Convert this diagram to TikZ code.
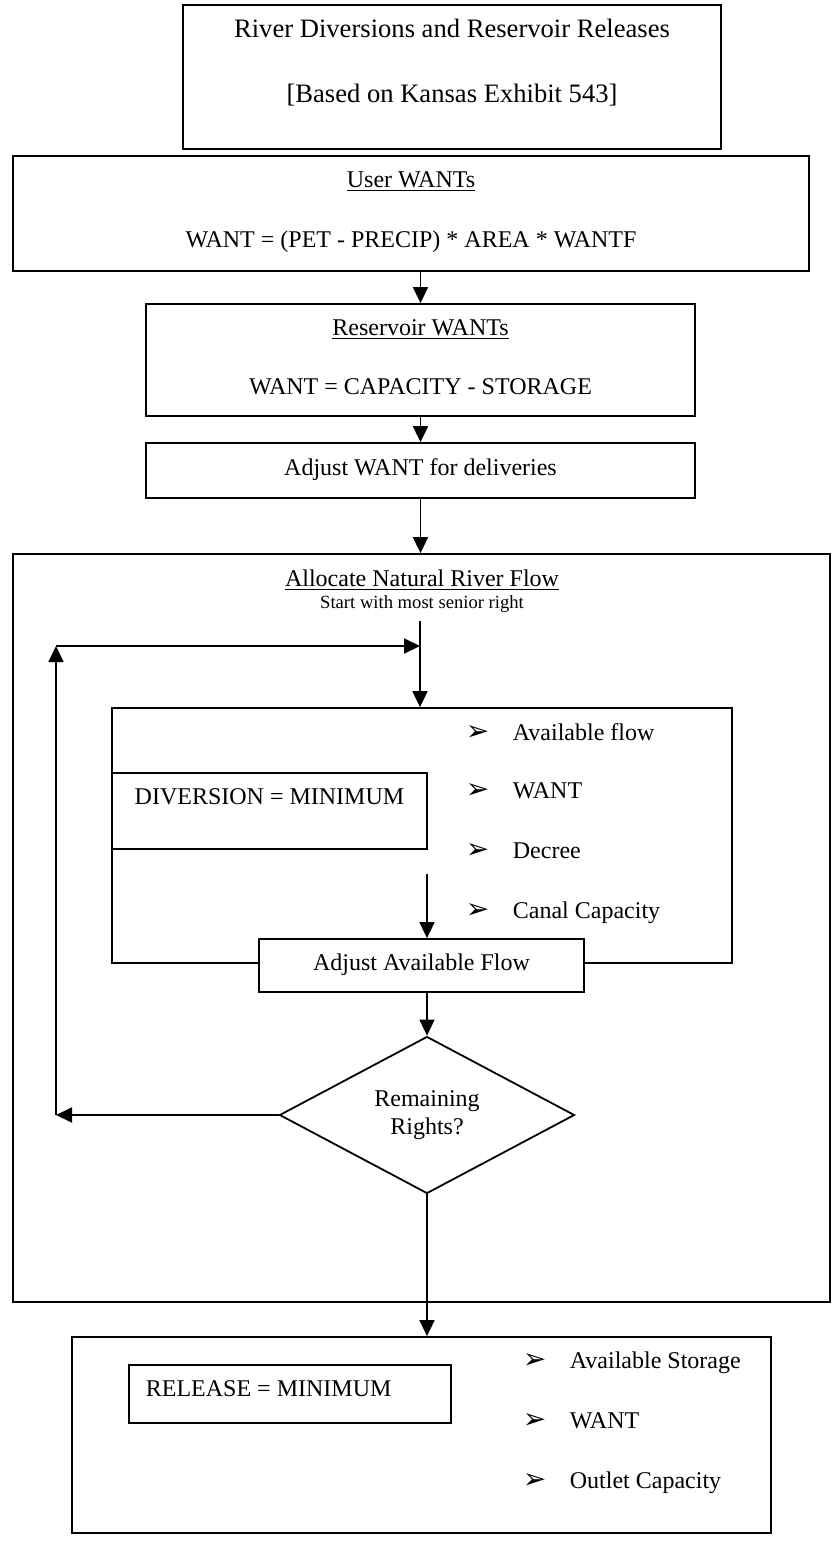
\documentclass[tikz,border=0pt]{standalone}
\usepackage{fontspec}
\setmainfont{Liberation Serif}
\newfontfamily\bulletfont{DejaVu Sans}
\usetikzlibrary{arrows.meta,shapes.geometric,positioning}

\newcommand\pickmark{\makebox[23.5pt][l]{\bulletfont\fontsize{14}{14}\selectfont ➢}}

\begin{document}
\begin{tikzpicture}[
  x = 0.5pt, y = -0.5pt,
  > = {Triangle[length=8pt,width=7.5pt]},
  line width = 0.9pt,
  frame/.style = {rectangle, draw, fill=white, inner sep=0pt,
                  text depth=3pt, font=\fontsize{12}{14}\selectfont},
  txt/.style   = {inner sep=0pt, anchor=base, font=\fontsize{12}{14}\selectfont},
  head/.style  = {inner sep=0pt, anchor=base, font=\fontsize{13.3}{15}\selectfont},
  small/.style = {inner sep=0pt, anchor=base, font=\fontsize{9.3}{11}\selectfont},
  pick/.style  = {inner sep=0pt, anchor=base west, font=\fontsize{12}{14}\selectfont},
  test/.style  = {diamond, draw, aspect=1.88, inner sep=0pt, align=center,
                  minimum width=147.5pt, minimum height=78.5pt,
                  font=\fontsize{12}{14}\selectfont}
]
\useasboundingbox (0,0) rectangle (833,1542);

% ───────── heading ─────────
\node[frame, minimum width=269pt, minimum height=72pt] (title) at (452,77) {};
\node[head] (titleA) at (452,37)  {River Diversions and Reservoir Releases};
\node[head] (titleB) at (452,102) {[Based on Kansas Exhibit 543]};

% ───────── wants ─────────
\node[frame, minimum width=398pt, minimum height=57.5pt] (user) at (411,213.5) {};
\node[txt] (userA) at (411,187) {\underline{User WANTs}};
\node[txt] (userB) at (411,247) {WANT = (PET - PRECIP) * AREA * WANTF};

\node[frame, minimum width=274.5pt, minimum height=56pt] (res) at (420.5,360) {};
\node[txt] (resA) at (420.5,335) {\underline{Reservoir WANTs}};
\node[txt] (resB) at (420.5,394) {WANT = CAPACITY - STORAGE};

\node[frame, minimum width=274.5pt, minimum height=27.5pt] (adjwant) at (420.5,470.5)
  {Adjust WANT for deliveries};

% ───────── river allocation ─────────
\node[frame, minimum width=408.5pt, minimum height=374pt] (alloc) at (421.5,928) {};
\node[txt]   (allocA) at (422,586) {\underline{Allocate Natural River Flow}};
\node[small] (allocB) at (422,608) {Start with most senior right};

\node[frame, minimum width=310pt, minimum height=127.5pt] (inner) at (422,835.5) {};
\node[frame, minimum width=157.5pt, minimum height=38pt] (div) at (269.5,811) {};
\node[txt] (divA) at (269.5,804) {DIVERSION = MINIMUM};

\foreach \y/\t [count=\i] in {740/Available flow, 798/WANT, 858/Decree, 918/Canal Capacity}
  \node[pick] (divpick\i) at (465,\y) {\pickmark\t};

\node[frame, minimum width=162.5pt, minimum height=26.5pt] (adjflow) at (421.5,965.5)
  {Adjust Available Flow};
\node[test] (more) at (427,1115) {Remaining\\Rights?};

% ───────── reservoir release ─────────
\node[frame, minimum width=349.5pt, minimum height=98pt] (rel) at (421.5,1435) {};
\node[frame, minimum width=161pt, minimum height=29pt] (relmin) at (290,1394) {};
\node[pick] (relminA) at (145,1396) {RELEASE = MINIMUM};

\foreach \y/\t [count=\i] in {1368/Available Storage, 1428/WANT, 1488/Outlet Capacity}
  \node[pick] (relpick\i) at (522,\y) {\pickmark\t};

% ───────── arrows ─────────
\coordinate (spine)  at (420,621);
\coordinate (loopL)  at (56,1115);
\coordinate (loopT)  at (56,646);
\coordinate (divout) at (427,874);

\draw[->] (res.north |- user.south) -- (res.north);
\draw[->] (res.south) -- (adjwant.north);
\draw[->] (adjwant.south) -- (adjwant.south |- alloc.north);
\draw[->] (spine) -- (spine |- inner.north);

\draw[->] (more.west) -- (loopL);
\draw[->] (loopL) -- (loopT);
\draw[->] (loopT) -- (spine |- loopT);

\draw[->] (divout) -- (divout |- adjflow.north);
\draw[->] (divout |- adjflow.south) -- (more.north);
\draw[->] (more.south) -- (more.south |- rel.north);

\end{tikzpicture}
\end{document}
